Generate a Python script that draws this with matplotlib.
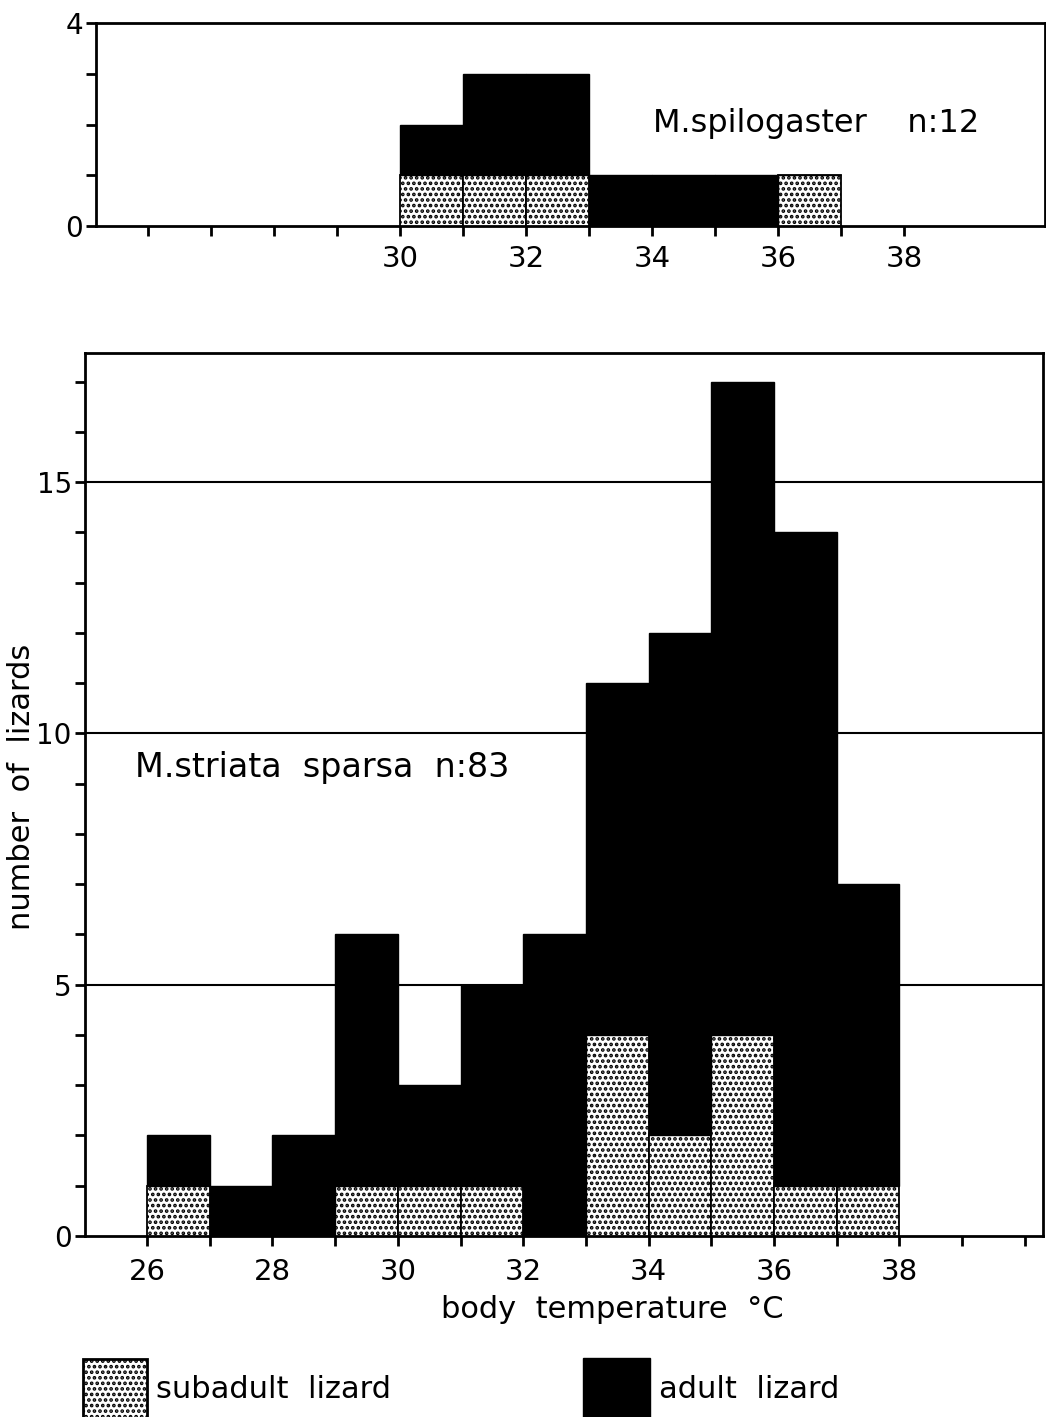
import matplotlib
matplotlib.use("Agg")
import matplotlib.pyplot as plt
from matplotlib.patches import Rectangle

plt.rcParams['font.family'] = ['DejaVu Sans']
plt.rcParams['hatch.linewidth'] = 1.8

# ---------------- data ----------------
# top panel: M. spilogaster (bins are 1 degree wide, left edges)
spil_bins = [30, 31, 32, 33, 34, 35, 36]
spil_total = [2, 3, 3, 1, 1, 1, 1]
spil_sub = [1, 1, 1, 0, 0, 0, 1]

# bottom panel: M. striata sparsa
stri_bins = [26, 27, 28, 29, 30, 31, 32, 33, 34, 35, 36, 37]
stri_total = [2, 1, 2, 6, 3, 5, 6, 11, 12, 17, 14, 7]
stri_sub = [1, 0, 0, 1, 1, 1, 0, 4, 2, 4, 1, 1]

top_xticks = list(range(26, 39))
top_xlabels = ['', '', '', '', '30', '', '32', '', '34', '', '36', '', '38']
top_yticks = [0, 1, 2, 3, 4]
top_ylabels = ['0', '', '', '', '4']

bot_xticks = list(range(26, 41))
bot_xlabels = ['26', '', '28', '', '30', '', '32', '', '34', '', '36', '', '38', '', '']
bot_yticks = list(range(0, 18))
bot_ylabels = [str(v) if v % 5 == 0 else '' for v in bot_yticks]
grid_levels = [5, 10, 15]

W, H = 1046, 1417
fig = plt.figure(figsize=(W / 100, H / 100), dpi=100)
fig.patch.set_facecolor('white')


def draw_stack(ax, bins, total, sub):
    adult = [t - s for t, s in zip(total, sub)]
    ax.bar(bins, sub, width=1, align='edge', facecolor='white',
           edgecolor='black', hatch='...', linewidth=1.3, zorder=3)
    ax.bar(bins, adult, bottom=sub, width=1, align='edge', color='black',
           edgecolor='black', linewidth=1.0, zorder=3)


def style(ax, pad_x):
    for sp in ax.spines.values():
        sp.set_linewidth(2.0)
        sp.set_color('black')
    ax.tick_params(axis='both', direction='out', length=7.5, width=2.0,
                   color='black')
    ax.tick_params(axis='x', pad=pad_x, labelsize=21)
    ax.tick_params(axis='y', pad=2, labelsize=20)


# ---------------- top panel ----------------
ax1 = fig.add_axes([96 / W, 1 - 226 / H, (1045 - 96) / W, (226 - 23) / H])
draw_stack(ax1, spil_bins, spil_total, spil_sub)
ax1.set_xlim(25.17, 40.24)
ax1.set_ylim(0, 4)
ax1.set_xticks(top_xticks)
ax1.set_xticklabels(top_xlabels)
ax1.set_yticks(top_yticks)
ax1.set_yticklabels(top_ylabels)
style(ax1, 6)
ax1.text(34.02, 1.85, 'M.spilogaster    n:12', fontsize=23, ha='left',
         va='baseline')

# ---------------- bottom panel ----------------
ax2 = fig.add_axes([85 / W, 1 - 1236 / H, (1043 - 85) / W, (1236 - 353) / H])
for g in grid_levels:
    ax2.axhline(g, color='black', linewidth=1.5, zorder=1)
draw_stack(ax2, stri_bins, stri_total, stri_sub)
ax2.set_xlim(25.01, 40.29)
ax2.set_ylim(0, 17.57)
ax2.set_xticks(bot_xticks)
ax2.set_xticklabels(bot_xlabels)
ax2.set_yticks(bot_yticks)
ax2.set_yticklabels(bot_ylabels)
style(ax2, 8)
ax2.text(25.81, 9.13, 'M.striata  sparsa  n:83', fontsize=24, ha='left',
         va='baseline')

fig.text(22 / W, 1 - 787 / H, 'number  of  lizards', rotation=90,
         ha='center', va='center', fontsize=22)
fig.text(612 / W, 1 - 1318 / H, 'body  temperature  °C', ha='center',
         va='baseline', fontsize=22)

# ---------------- legend ----------------
fig.add_artist(Rectangle((83 / W, -0.01), (147 - 83) / W, (1417 - 1359) / H + 0.01,
                         transform=fig.transFigure, facecolor='white',
                         edgecolor='black', hatch='...', linewidth=2.0))
fig.add_artist(Rectangle((583 / W, -0.01), (650 - 583) / W, (1417 - 1358) / H + 0.01,
                         transform=fig.transFigure, facecolor='black',
                         edgecolor='black', linewidth=1.0))
fig.text(156 / W, 1 - 1398 / H, 'subadult  lizard', fontsize=22,
         ha='left', va='baseline')
fig.text(659 / W, 1 - 1398 / H, 'adult  lizard', fontsize=22,
         ha='left', va='baseline')

fig.savefig('out.png', dpi=100, facecolor='white')
